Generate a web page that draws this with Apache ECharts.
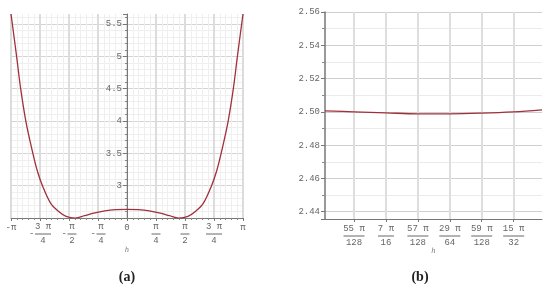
<!DOCTYPE html>
<html>
<head>
<meta charset="utf-8">
<script src="https://cdn.jsdelivr.net/npm/echarts@6/dist/echarts.min.js"></script>
<style>
  html, body { margin: 0; padding: 0; background: #fff; }
  #chart { width: 550px; height: 291px; }
</style>
</head>
<body>
<div id="chart"></div>
<script>
const PI = Math.PI

// panel (a): f(h) over [-pi, pi]
const hA = [-3.1416, -2.99, -2.88, -2.74, -2.57, -2.43, -2.29, -2.07, -1.85, -1.65, -1.40, -1.15, -0.90, -0.60, -0.30,
            0, 0.30, 0.60, 0.90, 1.15, 1.40, 1.65, 1.85, 2.07, 2.29, 2.43, 2.57, 2.74, 2.88, 2.99, 3.1416]
const valA = [5.655, 5.0, 4.5, 4.0, 3.55, 3.23, 3.0, 2.73, 2.6, 2.525, 2.499, 2.535, 2.575, 2.61, 2.628,
              2.633, 2.628, 2.61, 2.575, 2.535, 2.499, 2.525, 2.6, 2.73, 3.0, 3.23, 3.55, 4.0, 4.5, 5.0, 5.655]
const xLabelsA = ['-π', '-3π/4', '-π/2', '-π/4', '0', 'π/4', 'π/2', '3π/4', 'π']

// panel (b): zoom near the minimum
const hB = [1.3276, 1.3499, 1.3744, 1.3990, 1.4235, 1.4481, 1.4726, 1.4944]
const valB = [2.5006, 2.5000, 2.4994, 2.4988, 2.4988, 2.4992, 2.5000, 2.5012]
const xLabelsB = ['55π/128', '7π/16', '57π/128', '29π/64', '59π/128', '15π/32']   // k = 55..60 (units of pi/128)

const RED = '#a0303b'
const LBL = '#666'
const FONT = 'Liberation Mono'

const rich = {
    t: {fontFamily: FONT, fontSize: 9, color: LBL, lineHeight: 10},
    n1: {fontFamily: FONT, fontSize: 9, color: LBL, lineHeight: 8, width: 9, align: 'center'},
    n3: {fontFamily: FONT, fontSize: 9, color: LBL, lineHeight: 8, width: 16, align: 'center'},
    n4: {fontFamily: FONT, fontSize: 9, color: LBL, lineHeight: 8, width: 21, align: 'center'},
    b1: {width: 9, height: 1, lineHeight: 6, backgroundColor: LBL},
    b3: {width: 16, height: 1, lineHeight: 6, backgroundColor: LBL},
    b4: {width: 21, height: 1, lineHeight: 6, backgroundColor: LBL},
    sp: {width: 6, lineHeight: 8},
    m: {fontFamily: FONT, fontSize: 9, color: LBL, width: 6, lineHeight: 6, align: 'left'}
}

function toRich(s) {
    if (s == null) return ''
    if (s.indexOf('/') < 0) return '{t|' + s + '}'
    let neg = s[0] === '-'
    let body = neg ? s.slice(1) : s
    let [num, den] = body.split('/')
    let numTxt = num.length > 1 ? num.replace('π', ' π') : num
    let w = numTxt.length >= 4 ? '4' : (numTxt.length >= 2 ? '3' : '1')
    let pre = neg ? '{sp|}' : ''
    return pre + '{n' + w + '|' + numTxt + '}\n' +
        (neg ? '{m|-}' : '') + '{b' + w + '|}\n' +
        pre + '{n' + w + '|' + den + '}'
}

const minorGrid = {show: true, lineStyle: {color: '#efefef', width: 1}}
const nameStyle = {fontFamily: 'DejaVu Serif', fontStyle: 'italic', fontSize: 7, color: '#777'}

let chart = echarts.init(document.getElementById('chart'))
chart.setOption({
    animation: false,
    grid: [
        {left: 11, right: 307, top: 14, bottom: 73, containLabel: false, outerBoundsMode: 'none'},
        {left: 325, right: 8, top: 12, bottom: 72, containLabel: false, outerBoundsMode: 'none'}
    ],
    xAxis: [
        {
            gridIndex: 0, type: 'value', min: -PI, max: PI, interval: PI / 4,
            name: 'h', nameLocation: 'middle', nameGap: 29, nameMoveOverlap: false, nameTextStyle: nameStyle,
            axisLine: {onZero: false, lineStyle: {color: '#777', width: 1}},
            axisTick: {show: true, length: 3, lineStyle: {color: '#777'}},
            minorTick: {show: true, splitNumber: 5, length: 2, lineStyle: {color: '#888'}},
            splitLine: {show: true, lineStyle: {color: '#dcdcdc', width: 2}},
            minorSplitLine: minorGrid,
            axisLabel: {
                margin: 5, rich: rich, hideOverlap: false,
                formatter: v => toRich(xLabelsA[Math.round(v / (PI / 4)) + 4])
            }
        },
        {
            gridIndex: 1, type: 'value', min: hB[0], max: hB[hB.length - 1],
            minInterval: PI / 128, maxInterval: PI / 128,
            name: 'h', nameLocation: 'middle', nameGap: 29, nameMoveOverlap: false, nameTextStyle: nameStyle,
            axisLine: {onZero: false, lineStyle: {color: '#777', width: 1}},
            axisTick: {show: true, length: 3, lineStyle: {color: '#777'}},
            splitLine: {show: true, showMinLine: false, showMaxLine: false, lineStyle: {color: '#dedede', width: 2}},
            axisLabel: {
                margin: 6, rich: rich, showMinLabel: false, showMaxLabel: false, hideOverlap: false,
                formatter: v => toRich(xLabelsB[Math.round(v / (PI / 128)) - 55])
            }
        }
    ],
    yAxis: [
        {
            // the y axis of panel (a) sits on h = 0
            gridIndex: 0, type: 'value', min: 2.5, max: 5.655, interval: 0.5,
            position: 'left', offset: -116,
            axisLine: {show: true, onZero: false, lineStyle: {color: '#777', width: 1}},
            axisTick: {show: true, length: 4, lineStyle: {color: '#777'}},
            minorTick: {show: true, splitNumber: 5, length: 2, lineStyle: {color: '#888'}},
            splitLine: {show: true, showMaxLine: false, lineStyle: {color: '#d4d4d4', width: 1}},
            minorSplitLine: minorGrid,
            axisLabel: {
                margin: 5, showMinLabel: false, showMaxLabel: false,
                fontFamily: FONT, fontSize: 9, color: LBL
            }
        },
        {
            gridIndex: 1, type: 'value', min: 2.4356, max: 2.56,
            minInterval: 0.02, maxInterval: 0.02,
            axisLine: {show: true, onZero: false, lineStyle: {color: '#777', width: 1.5}},
            axisTick: {show: true, length: 4, lineStyle: {color: '#777'}},
            minorTick: {show: true, splitNumber: 2, length: 3, lineStyle: {color: '#888'}},
            splitLine: {show: true, showMinLine: false, lineStyle: {color: '#cfcfcf', width: 1}},
            minorSplitLine: {show: true, lineStyle: {color: '#ebebeb', width: 1}},
            axisLabel: {
                margin: 5, showMinLabel: false,
                fontFamily: FONT, fontSize: 9, color: LBL,
                formatter: v => v.toFixed(2)
            }
        }
    ],
    series: [
        {
            type: 'line', xAxisIndex: 0, yAxisIndex: 0, smooth: 0.35,
            showSymbol: false, clip: true,
            lineStyle: {color: RED, width: 1.3},
            data: hA.map((h, i) => [h, valA[i]])
        },
        {
            type: 'line', xAxisIndex: 1, yAxisIndex: 1, smooth: 0.35,
            showSymbol: false, clip: true,
            lineStyle: {color: RED, width: 1.3},
            data: hB.map((h, i) => [h, valB[i]])
        }
    ],
    graphic: [
        {type: 'text', x: 127, y: 277, style: {text: '(a)', font: 'bold 14px "Liberation Serif"', fill: '#222', textAlign: 'center', textVerticalAlign: 'middle'}},
        {type: 'text', x: 420, y: 277, style: {text: '(b)', font: 'bold 14px "Liberation Serif"', fill: '#222', textAlign: 'center', textVerticalAlign: 'middle'}}
    ]
})
</script>
</body>
</html>
